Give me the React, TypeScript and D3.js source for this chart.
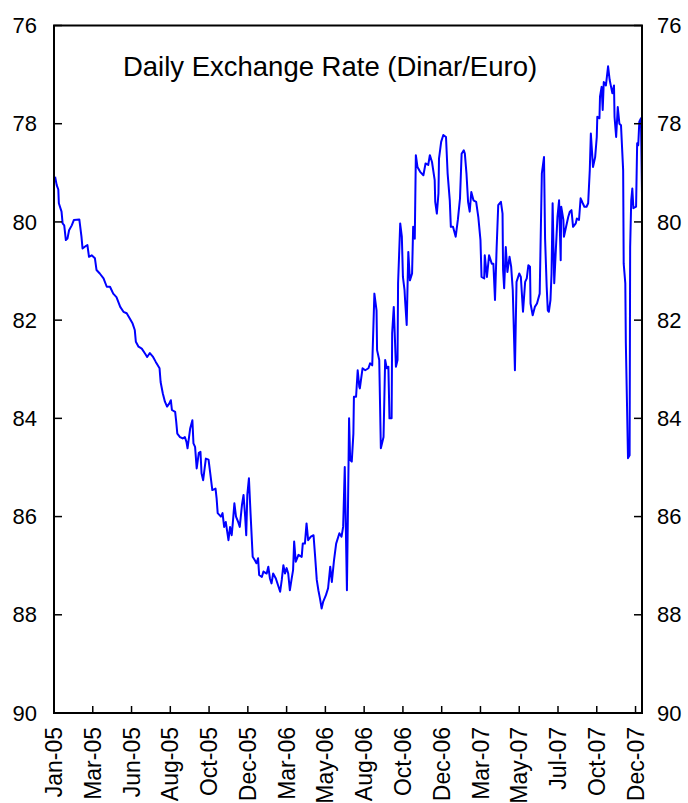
import React from "react";
import * as d3 from "d3";

const title = "Daily Exchange Rate (Dinar/Euro)";
const startDate = Date.UTC(2005, 0, 3);
const endDate = Date.UTC(2007, 11, 31);

// days since 3 Jan 2005
const dayOffsets = [2,5,8,9,14,16,19,22,25,28,33,37,47,51,53,59,62,65,70,76,79,85,92,98,104,110,116,123,129,135,141,146,150,152,157,163,169,173,178,184,189,196,198,202,206,210,214,217,219,225,227,229,234,239,243,246,248,253,257,259,262,265,269,272,274,277,282,287,291,294,300,302,304,310,313,316,319,324,327,330,332,335,338,342,345,349,352,355,357,359,362,365,369,373,376,379,381,386,389,395,398,401,404,407,412,417,420,423,426,429,432,435,438,441,444,446,449,454,460,462,466,469,472,477,482,485,488,491,494,497,500,505,509,513,516,520,524,530,534,537,540,544,547,548,550,553,556,557,561,564,567,568,573,578,584,587,591,595,599,600,604,607,612,615,618,621,623,627,628,631,635,638,639,643,646,648,651,652,655,658,661,665,667,670,672,675,680,686,690,695,698,702,707,708,711,714,715,719,723,728,731,735,737,741,746,750,754,757,761,763,766,769,772,775,779,784,788,792,794,799,800,804,808,813,816,819,822,825,830,833,834,836,839,842,846,849,852,856,859,864,867,871,875,878,881,884,885,889,893,897,902,906,910,912,915,917,919,922,924,926,929,932,935,938,941,942,946,947,951,955,958,961,964,969,971,975,978,982,985,989,992,995,997,1001,1005,1008,1009,1013,1014,1017,1019,1021,1025,1029,1032,1034,1037,1040,1041,1044,1047,1050,1053,1057,1058,1061,1062,1064,1066,1069,1070,1072,1074,1076,1081,1083,1085,1087,1090,1092];

const rates = [79.08,79.25,79.34,79.62,79.79,80.03,80.07,80.37,80.34,80.17,80.07,79.96,79.95,80.30,80.54,80.49,80.47,80.71,80.68,80.74,80.98,81.05,81.15,81.32,81.32,81.46,81.53,81.73,81.83,81.86,81.97,82.07,82.20,82.44,82.54,82.58,82.68,82.75,82.67,82.75,82.85,82.98,83.26,83.49,83.66,83.76,83.70,83.63,83.83,83.87,84.07,84.31,84.38,84.41,84.38,84.48,84.61,84.20,84.04,84.51,84.58,85.02,84.70,84.68,85.12,85.26,84.82,84.84,85.19,85.46,85.43,85.63,85.93,86.00,85.93,86.21,86.11,86.48,86.21,86.38,86.14,85.73,86.00,86.11,86.21,85.77,85.56,86.00,86.38,85.56,85.22,85.93,86.82,86.89,86.95,86.85,87.19,87.23,87.12,87.16,87.02,87.26,87.36,87.16,87.26,87.43,87.53,87.29,86.99,87.16,87.05,87.16,87.50,87.29,87.09,86.51,86.92,86.78,86.82,86.55,86.55,86.14,86.48,86.41,86.38,86.82,87.29,87.50,87.67,87.87,87.73,87.60,87.46,87.02,87.33,86.89,86.55,86.34,86.41,86.21,84.99,87.50,84.92,84.00,84.85,84.88,84.31,83.56,83.56,83.02,83.36,83.39,82.98,83.02,82.98,82.88,82.92,81.46,81.80,82.61,82.81,84.61,84.38,82.81,82.98,82.95,84.00,84.00,82.27,81.73,82.95,82.81,81.25,80.03,80.30,81.12,81.39,81.59,82.10,80.61,81.19,81.05,80.10,80.34,78.64,78.88,78.98,79.05,78.81,78.84,78.64,78.78,79.15,79.59,79.83,79.42,78.71,78.37,78.23,78.27,79.01,79.56,80.10,80.10,80.30,79.96,79.52,78.61,78.54,78.61,79.01,79.59,79.79,79.39,79.56,79.59,79.90,80.37,81.12,81.15,80.68,81.12,80.68,80.85,80.85,81.59,80.54,79.66,79.59,79.83,80.98,81.35,80.51,81.02,80.71,80.91,81.39,83.02,81.22,81.05,81.12,81.83,81.22,81.15,80.88,80.91,81.66,81.90,81.73,81.66,81.46,79.01,78.68,80.34,81.32,81.80,81.83,81.59,81.05,79.62,81.25,80.57,79.90,79.56,80.78,79.69,79.96,80.30,80.10,79.90,79.79,79.76,80.10,80.03,79.93,79.96,79.52,79.62,79.69,79.69,79.62,78.95,78.20,78.88,78.68,78.27,77.86,77.89,77.45,77.25,77.72,77.15,77.22,76.83,77.11,77.22,77.38,77.22,77.86,78.27,77.66,78.00,78.03,78.95,80.85,81.25,82.47,83.63,84.81,84.75,80.51,79.56,79.32,79.72,79.69,78.40,78.44,77.96,77.89,79.42];

const xTickLabels = ["Jan-05","Mar-05","Jun-05","Aug-05","Oct-05","Dec-05","Mar-06","May-06","Aug-06","Oct-06","Dec-06","Mar-07","May-07","Jul-07","Oct-07","Dec-07"];
const xTickDays = [0,72,144,216,288,360,432,504,576,648,720,792,864,936,1008,1080];
const yTicks = [76,78,80,82,84,86,88,90];

const W = 688, H = 803;
const M = { left: 54, right: 642, top: 25.5, bottom: 713 };
const FONT = "'Liberation Sans', Arial, sans-serif";

export default function App() {
  const x = d3.scaleUtc().domain([new Date(startDate), new Date(endDate)]).range([M.left, M.right]);
  const y = d3.scaleLinear().domain([76, 90]).range([M.top, M.bottom]);
  const data = dayOffsets.map((d, i) => ({ date: d3.utcDay.offset(new Date(startDate), d), v: rates[i] }));
  const line = d3.line<any>().x((d) => x(d.date)).y((d) => y(d.v));
  return (
    <svg width={W} height={H} style={{ position: "absolute", left: 0, top: 0, background: "#fff" }} fontFamily={FONT}>
      <rect x={0} y={0} width={W} height={H} fill="#fff" />
      <text x={330} y={76} textAnchor="middle" fontSize={27.5} fill="#000">{title}</text>
      <path d={line(data) || ""} fill="none" stroke="#0000FF" strokeWidth={2} strokeLinejoin="round" />
      <rect x={M.left} y={M.top} width={M.right - M.left} height={M.bottom - M.top} fill="none" stroke="#000" strokeWidth={2} />
      {yTicks.map((t) => (
        <g key={t}>
          <line x1={M.left} x2={M.left + 8} y1={y(t)} y2={y(t)} stroke="#000" strokeWidth={1.5} />
          <line x1={M.right - 8} x2={M.right} y1={y(t)} y2={y(t)} stroke="#000" strokeWidth={1.5} />
          <text x={37} y={y(t)} dy="0.35em" textAnchor="end" fontSize={22} fill="#000">{t}</text>
          <text x={657} y={y(t)} dy="0.35em" textAnchor="start" fontSize={22} fill="#000">{t}</text>
        </g>
      ))}
      {xTickDays.map((d, i) => {
        const px = x(d3.utcDay.offset(new Date(startDate), d));
        return (
          <g key={d}>
            <line x1={px} x2={px} y1={M.bottom} y2={M.bottom - 7} stroke="#000" strokeWidth={1.5} />
            <text transform={`translate(${px},${M.bottom + 14}) rotate(-90)`} dy="0.35em" textAnchor="end" fontSize={23} fill="#000">{xTickLabels[i]}</text>
          </g>
        );
      })}
    </svg>
  );
}
